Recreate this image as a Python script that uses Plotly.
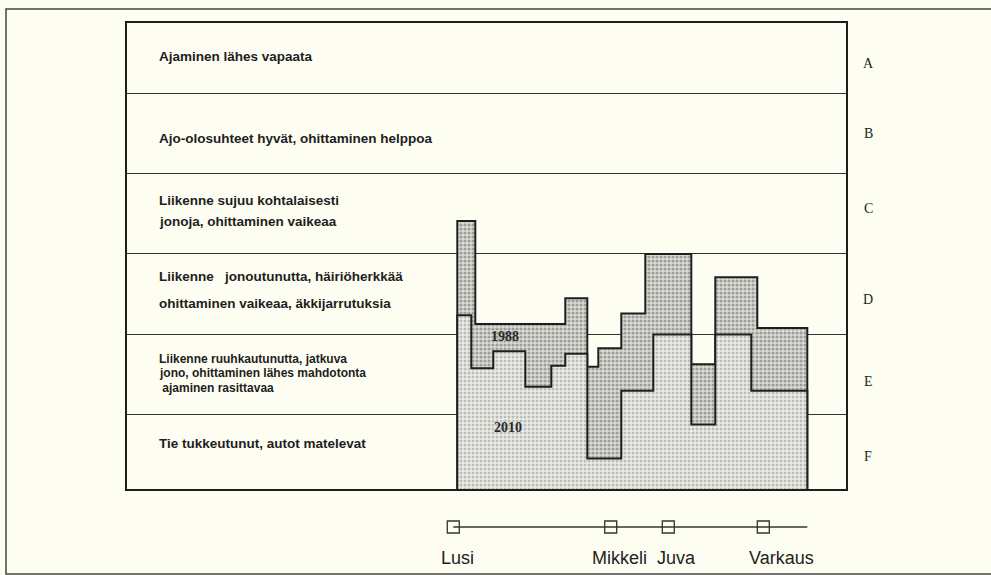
import plotly.graph_objects as go

# ---------------- data ----------------
# level-of-service scale: F=0..1, E=1..2, D=2..3, C=3..4, B=4..5, A=5..
level_letters = ["A", "B", "C", "D", "E", "F"]
letter_levels = [5.37, 4.50, 3.57, 2.43, 1.42, 0.48]

band_lines = [1, 2, 3, 4, 5]

label_lines = [
    "Ajaminen lähes vapaata",
    "Ajo-olosuhteet hyvät, ohittaminen helppoa",
    "Liikenne sujuu kohtalaisesti",
    "jonoja, ohittaminen vaikeaa",
    "Liikenne\u00a0\u00a0 jonoutunutta, häiriöherkkää",
    "ohittaminen vaikeaa, äkkijarrutuksia",
    "Liikenne ruuhkautunutta, jatkuva",
    "jono, ohittaminen lähes mahdotonta",
    "\u00a0ajaminen rasittavaa",
    "Tie tukkeutunut, autot matelevat",
]
label_levels = [5.46, 4.44, 3.66, 3.40, 2.72, 2.39, 1.70, 1.52, 1.34, 0.65]
label_sizes = [13.5, 13.5, 13.5, 13.5, 13.5, 13.5, 12, 12, 12, 13.5]

# road distance (km along the road) of step edges and level of each section
edges_1988 = [2, 11, 56, 67, 72.5, 84, 96, 119, 131, 152, 177]
level_1988 = [3.41, 2.13, 2.45, 1.60, 1.83, 2.26, 3.0, 1.63, 2.71, 2.08]

edges_2010 = [2, 9, 20, 36, 49, 56, 67, 84, 100, 119, 131, 149, 177]
level_2010 = [2.24, 1.58, 1.79, 1.35, 1.61, 1.76, 0.46, 1.30, 2.0, 0.88, 2.0, 1.30]

towns = ["Lusi", "Mikkeli", "Juva", "Varkaus"]
town_km = [0, 78.7, 107.5, 155]
road_end_km = 177

year_labels = ["1988", "2010"]
year_label_x = [26, 27.5]
year_label_y = [1.97, 0.84]

# ---------------- styling ----------------
BG = "#fdfdf1"
INK = "#1e1e1e"
Y_MIN, Y_MAX = 0.08, 5.87
X_MIN, X_MAX = -163.15, 196.35


def step_xy(edges, vals, base):
    xs = [edges[0]] + list(edges) + [edges[-1]]
    ys = [base] + list(vals) + [vals[-1], base]
    return xs, ys


fig = go.Figure()

x88, y88 = step_xy(edges_1988, level_1988, Y_MIN)
fig.add_trace(go.Scatter(
    x=x88, y=y88, mode="lines", line=dict(color=INK, width=2, shape="hv"),
    fill="toself", fillcolor="#bdbdb8",
    fillpattern=dict(shape=".", size=4, solidity=0.5, fgcolor="#5e5e5e", bgcolor="#dcdcd6"),
    hoverinfo="skip", showlegend=False, xaxis="x", yaxis="y",
))

x10, y10 = step_xy(edges_2010, level_2010, Y_MIN)
fig.add_trace(go.Scatter(
    x=x10, y=y10, mode="lines", line=dict(color=INK, width=2, shape="hv"),
    fill="toself", fillcolor="#d6d6d2",
    fillpattern=dict(shape=".", size=4, solidity=0.45, fgcolor="#8c8c8c", bgcolor="#ecece6"),
    hoverinfo="skip", showlegend=False, xaxis="x", yaxis="y",
))

# road line with towns
fig.add_trace(go.Scatter(
    x=[town_km[0], road_end_km], y=[0, 0], mode="lines",
    line=dict(color="#333", width=1.3), hoverinfo="skip", showlegend=False,
    xaxis="x2", yaxis="y2",
))
fig.add_trace(go.Scatter(
    x=town_km, y=[0] * len(town_km), mode="markers",
    marker=dict(symbol="square-open", size=12, color="#333", line=dict(width=1.3)),
    hoverinfo="skip", showlegend=False, xaxis="x2", yaxis="y2",
))

annotations = []
for txt, lv, fs in zip(label_lines, label_levels, label_sizes):
    annotations.append(dict(
        x=0.0417, xref="paper", y=lv, yref="y", text="<b>" + txt + "</b>",
        showarrow=False, xanchor="left", yanchor="middle",
        font=dict(family="Liberation Sans, Arial", size=fs, color=INK),
    ))
for letter, lv in zip(level_letters, letter_levels):
    annotations.append(dict(
        x=1.0306, xref="paper", y=lv, yref="y", text=letter,
        showarrow=False, xanchor="center", yanchor="middle",
        font=dict(family="Liberation Serif, Times New Roman", size=14, color=INK),
    ))
for txt, xv, yv in zip(year_labels, year_label_x, year_label_y):
    annotations.append(dict(
        x=xv, xref="x", y=yv, yref="y", text="<b>" + txt + "</b>",
        showarrow=False, xanchor="center", yanchor="middle",
        font=dict(family="Liberation Serif, Times New Roman", size=14, color="#2a2a2a"),
    ))
town_shift = [4, 9, 8, 18]
for name, km, sh in zip(towns, town_km, town_shift):
    annotations.append(dict(
        x=km, xref="x2", y=-1, yref="y2", text=name, xshift=sh,
        showarrow=False, xanchor="center", yanchor="middle",
        font=dict(family="Liberation Sans, Arial", size=18, color="#222"),
    ))

fig.update_layout(
    width=991, height=575, autosize=False,
    margin=dict(l=127, r=145, t=23, b=0, pad=0),
    paper_bgcolor=BG, plot_bgcolor=BG,
    xaxis=dict(range=[X_MIN, X_MAX], anchor="y", showgrid=False, zeroline=False,
               showticklabels=False, ticks="", showline=True, mirror=True,
               linecolor=INK, linewidth=1.5),
    yaxis=dict(domain=[0.1558, 1], range=[Y_MIN, Y_MAX], tickvals=band_lines,
               showgrid=True, gridcolor="#333", gridwidth=1.2, zeroline=False,
               showticklabels=False, ticks="", showline=True, mirror=True,
               linecolor=INK, linewidth=1.5),
    xaxis2=dict(matches="x", anchor="y2", visible=False),
    yaxis2=dict(domain=[0, 0.1268], range=[-1.548, 0.71], visible=False),
    annotations=annotations,
    shapes=[dict(type="rect", xref="paper", yref="paper",
                 x0=-0.1683, x1=1.25, y0=0.0018, y1=1.0254,
                 line=dict(color="#444", width=1.5), layer="below")],
    showlegend=False,
)

fig.write_html(
    "out.html",
    config={"displayModeBar": False},
    post_script="document.body.style.margin='0';document.body.style.background='%s';" % BG,
)
